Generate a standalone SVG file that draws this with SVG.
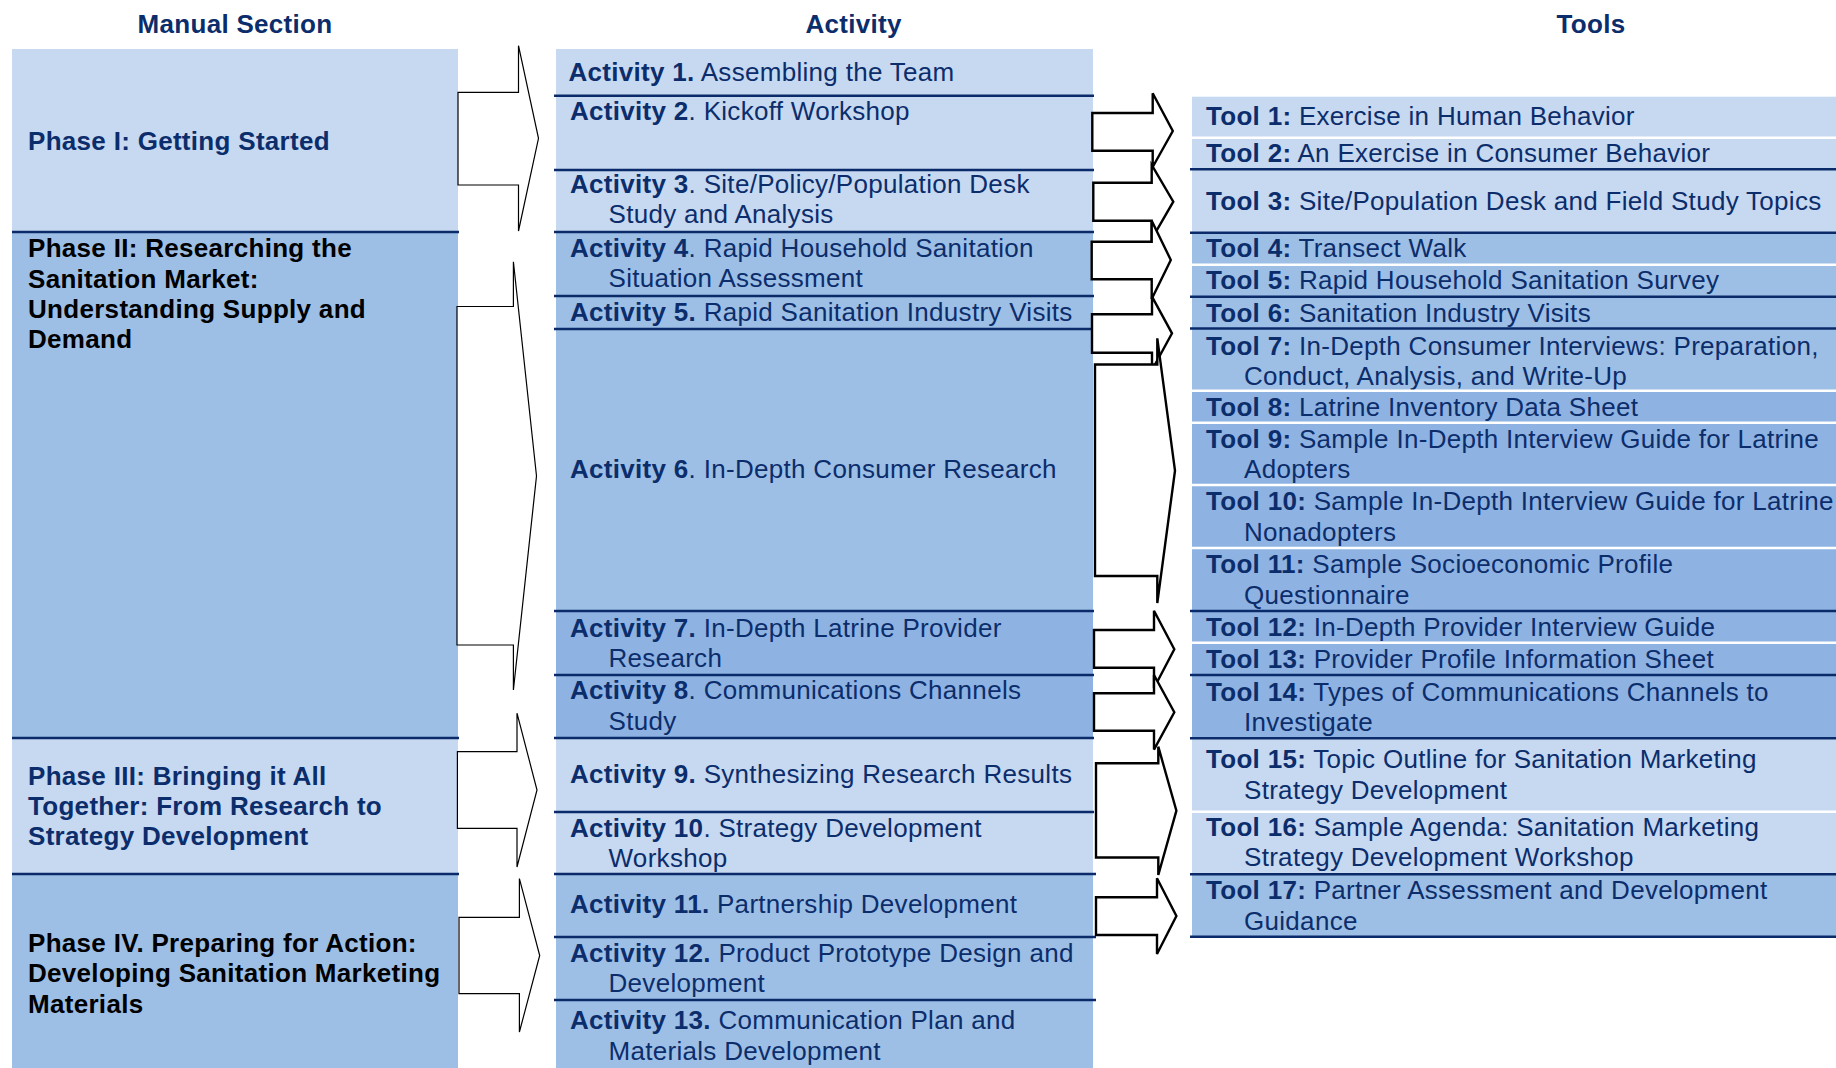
<svg xmlns="http://www.w3.org/2000/svg" width="1836" height="1068" viewBox="0 0 1836 1068">
<style>
text{font-family:"Liberation Sans",Arial,sans-serif;font-size:26px;letter-spacing:0.3px;fill:#0C2D6B}
.b{font-weight:bold}
.hd{font-weight:bold;text-anchor:middle}
.blk{fill:#000}
.lt{fill:#C6D9F1}
.md{fill:#9DBFE5}
.dk{fill:#8EB3E2}
.nv{stroke:#0A2A6A;stroke-width:2.5}
.wh{stroke:#FFFFFF;stroke-width:2.5}
.la{fill:#FFFFFF;stroke:#000;stroke-width:1.2;stroke-linejoin:miter}
.ra{fill:#FFFFFF;stroke:#000;stroke-width:2.4;stroke-linejoin:miter}
</style>
<rect width="1836" height="1068" fill="#FFFFFF"/>
<g id="headers">
<text class="hd" x="235" y="33">Manual Section</text>
<text class="hd" x="853.6" y="33">Activity</text>
<text class="hd" x="1591" y="33">Tools</text>
</g>
<g id="phase-1"><rect class="lt" x="12" y="49" width="446" height="183"/><text class="b" x="28" y="150">Phase I: Getting Started</text></g>
<g id="phase-2"><rect class="md" x="12" y="232" width="446" height="506"/><text class="b blk" x="28" y="257">Phase II: Researching the</text><text class="b blk" x="28" y="288">Sanitation Market:</text><text class="b blk" x="28" y="318">Understanding Supply and</text><text class="b blk" x="28" y="348">Demand</text></g>
<g id="phase-3"><rect class="lt" x="12" y="738" width="446" height="136"/><text class="b" x="28" y="785">Phase III: Bringing it All</text><text class="b" x="28" y="815">Together: From Research to</text><text class="b" x="28" y="845">Strategy Development</text></g>
<g id="phase-4"><rect class="md" x="12" y="874" width="446" height="194"/><text class="b blk" x="28" y="952">Phase IV. Preparing for Action:</text><text class="b blk" x="28" y="982">Developing Sanitation Marketing</text><text class="b blk" x="28" y="1013">Materials</text></g>
<g id="phase-lines"><line class="nv" x1="12" y1="232" x2="459" y2="232"/><line class="nv" x1="12" y1="738" x2="459" y2="738"/><line class="nv" x1="12" y1="874" x2="459" y2="874"/></g>

<g id="activity-bg">
<rect class="lt" x="556" y="49" width="537" height="183"/>
<rect class="md" x="556" y="232" width="537" height="379"/>
<rect class="dk" x="556" y="611" width="537" height="127"/>
<rect class="lt" x="556" y="738" width="537" height="136"/>
<rect class="md" x="556" y="874" width="537" height="194"/>
</g>
<g id="activity-1"><text x="568.5" y="81"><tspan class="b">Activity 1.</tspan> Assembling the Team</text></g>
<g id="activity-2"><text x="570" y="120"><tspan class="b">Activity 2</tspan>. Kickoff Workshop</text></g>
<g id="activity-3"><text x="570" y="193"><tspan class="b">Activity 3</tspan>. Site/Policy/Population Desk</text><text x="608.5" y="223">Study and Analysis</text></g>
<g id="activity-4"><text x="570" y="257"><tspan class="b">Activity 4</tspan>. Rapid Household Sanitation</text><text x="608.5" y="287">Situation Assessment</text></g>
<g id="activity-5"><text x="570" y="321"><tspan class="b">Activity 5.</tspan> Rapid Sanitation Industry Visits</text></g>
<g id="activity-6"><text x="570" y="478"><tspan class="b">Activity 6</tspan>. In-Depth Consumer Research</text></g>
<g id="activity-7"><text x="570" y="637"><tspan class="b">Activity 7.</tspan> In-Depth Latrine Provider</text><text x="608.5" y="667">Research</text></g>
<g id="activity-8"><text x="570" y="699"><tspan class="b">Activity 8</tspan>. Communications Channels</text><text x="608.5" y="730">Study</text></g>
<g id="activity-9"><text x="570" y="783"><tspan class="b">Activity 9.</tspan> Synthesizing Research Results</text></g>
<g id="activity-10"><text x="570" y="837"><tspan class="b">Activity 10</tspan>. Strategy Development</text><text x="608.5" y="867">Workshop</text></g>
<g id="activity-11"><text x="570" y="913"><tspan class="b">Activity 11.</tspan> Partnership Development</text></g>
<g id="activity-12"><text x="570" y="962"><tspan class="b">Activity 12.</tspan> Product Prototype Design and</text><text x="608.5" y="992">Development</text></g>
<g id="activity-13"><text x="570" y="1029"><tspan class="b">Activity 13.</tspan> Communication Plan and</text><text x="608.5" y="1060">Materials Development</text></g>
<g id="activity-lines">
<line class="nv" x1="554" y1="95.7" x2="1094" y2="95.7"/>
<line class="nv" x1="554" y1="170" x2="1094" y2="170"/>
<line class="nv" x1="554" y1="232" x2="1094" y2="232"/>
<line class="nv" x1="554" y1="296" x2="1094" y2="296"/>
<line class="nv" x1="554" y1="329" x2="1094" y2="329"/>
<line class="nv" x1="554" y1="611" x2="1094" y2="611"/>
<line class="nv" x1="554" y1="675" x2="1094" y2="675"/>
<line class="nv" x1="554" y1="738" x2="1094" y2="738"/>
<line class="nv" x1="554" y1="812" x2="1094" y2="812"/>
<line class="nv" x1="554" y1="874" x2="1096" y2="874"/>
<line class="nv" x1="554" y1="937" x2="1096" y2="937"/>
<line class="nv" x1="554" y1="1000" x2="1096" y2="1000"/>
</g>

<g id="tool-bg">
<rect class="lt" x="1192" y="96.7" width="644" height="136"/>
<rect class="md" x="1192" y="232.7" width="644" height="158"/>
<rect class="dk" x="1192" y="390.7" width="644" height="347.6"/>
<rect class="lt" x="1192" y="738.3" width="644" height="136"/>
<rect class="md" x="1192" y="874.3" width="644" height="62.4"/>
</g>
<g id="tool-1"><text x="1206" y="125"><tspan class="b">Tool 1:</tspan> Exercise in Human Behavior</text></g>
<g id="tool-2"><text x="1206" y="161.7"><tspan class="b">Tool 2:</tspan> An Exercise in Consumer Behavior</text></g>
<g id="tool-3"><text x="1206" y="210"><tspan class="b">Tool 3:</tspan> Site/Population Desk and Field Study Topics</text></g>
<g id="tool-4"><text x="1206" y="257"><tspan class="b">Tool 4:</tspan> Transect Walk</text></g>
<g id="tool-5"><text x="1206" y="289"><tspan class="b">Tool 5:</tspan> Rapid Household Sanitation Survey</text></g>
<g id="tool-6"><text x="1206" y="321.7"><tspan class="b">Tool 6:</tspan> Sanitation Industry Visits</text></g>
<g id="tool-7"><text x="1206" y="355"><tspan class="b">Tool 7:</tspan> In-Depth Consumer Interviews: Preparation,</text><text x="1244" y="385">Conduct, Analysis, and Write-Up</text></g>
<g id="tool-8"><text x="1206" y="416"><tspan class="b">Tool 8:</tspan> Latrine Inventory Data Sheet</text></g>
<g id="tool-9"><text x="1206" y="447.7"><tspan class="b">Tool 9:</tspan> Sample In-Depth Interview Guide for Latrine</text><text x="1244" y="478">Adopters</text></g>
<g id="tool-10"><text x="1206" y="510"><tspan class="b">Tool 10:</tspan> Sample In-Depth Interview Guide for Latrine</text><text x="1244" y="540.7">Nonadopters</text></g>
<g id="tool-11"><text x="1206" y="573.3"><tspan class="b">Tool 11:</tspan> Sample Socioeconomic Profile</text><text x="1244" y="604">Questionnaire</text></g>
<g id="tool-12"><text x="1206" y="636"><tspan class="b">Tool 12:</tspan> In-Depth Provider Interview Guide</text></g>
<g id="tool-13"><text x="1206" y="668"><tspan class="b">Tool 13:</tspan> Provider Profile Information Sheet</text></g>
<g id="tool-14"><text x="1206" y="700.5"><tspan class="b">Tool 14:</tspan> Types of Communications Channels to</text><text x="1244" y="730.7">Investigate</text></g>
<g id="tool-15"><text x="1206" y="768.3"><tspan class="b">Tool 15:</tspan> Topic Outline for Sanitation Marketing</text><text x="1244" y="799">Strategy Development</text></g>
<g id="tool-16"><text x="1206" y="836"><tspan class="b">Tool 16:</tspan> Sample Agenda: Sanitation Marketing</text><text x="1244" y="866">Strategy Development Workshop</text></g>
<g id="tool-17"><text x="1206" y="899.3"><tspan class="b">Tool 17:</tspan> Partner Assessment and Development</text><text x="1244" y="930">Guidance</text></g>
<g id="tool-lines">
<line class="wh" x1="1192" y1="137.7" x2="1836" y2="137.7"/>
<line class="wh" x1="1192" y1="264.7" x2="1836" y2="264.7"/>
<line class="wh" x1="1192" y1="390.7" x2="1836" y2="390.7"/>
<line class="wh" x1="1192" y1="422.7" x2="1836" y2="422.7"/>
<line class="wh" x1="1192" y1="485" x2="1836" y2="485"/>
<line class="wh" x1="1192" y1="548" x2="1836" y2="548"/>
<line class="wh" x1="1192" y1="642.7" x2="1836" y2="642.7"/>
<line class="wh" x1="1192" y1="811.7" x2="1836" y2="811.7"/>
<line class="nv" x1="1190" y1="169.3" x2="1836" y2="169.3"/>
<line class="nv" x1="1190" y1="232.7" x2="1836" y2="232.7"/>
<line class="nv" x1="1190" y1="296.7" x2="1836" y2="296.7"/>
<line class="nv" x1="1190" y1="328.5" x2="1836" y2="328.5"/>
<line class="nv" x1="1190" y1="611" x2="1836" y2="611"/>
<line class="nv" x1="1190" y1="675" x2="1836" y2="675"/>
<line class="nv" x1="1190" y1="738.3" x2="1836" y2="738.3"/>
<line class="nv" x1="1190" y1="874.3" x2="1836" y2="874.3"/>
<line class="nv" x1="1190" y1="936.7" x2="1836" y2="936.7"/>
</g>

<g id="connectors">
<polygon class="la" points="458,92.3 518.5,92.3 518.5,45.7 538.5,138.3 518.5,231 518.5,185 458,185"/>
<polygon class="la" points="457,306.5 513.4,306.5 513.4,261.7 536.5,476 513.4,690 513.4,645 457,645"/>
<polygon class="la" points="457.4,751.7 517,751.7 517,713.2 537,790 517,867 517,828.3 457.4,828.3"/>
<polygon class="la" points="459,917.3 519.4,917.3 519.4,878.6 539.7,955.5 519.4,1032 519.4,993.7 459,993.7"/>
<polygon class="ra" points="1092.3,113 1152.7,113 1152.7,93.3 1172.8,131 1152.7,167 1152.7,150.7 1092.3,150.7"/>
<polygon class="ra" points="1093.3,182.7 1151.7,182.7 1151.7,165 1173.3,201.7 1151.7,239 1151.7,220.7 1093.3,220.7"/>
<polygon class="ra" points="1091.7,241.7 1151.7,241.7 1151.7,220.7 1170.8,260 1151.7,299 1151.7,279.3 1091.7,279.3"/>
<polygon class="ra" points="1092,314.3 1152,314.3 1152,296.7 1172,333.3 1152,370 1152,352.7 1092,352.7"/>
<polygon class="ra" points="1095,364.5 1157.3,364.5 1157.3,338.3 1175,470.7 1157.3,603 1157.3,576 1095,576"/>
<polygon class="ra" points="1094,630 1154,630 1154,610.7 1174.3,649.3 1154,688 1154,667.7 1094,667.7"/>
<polygon class="ra" points="1094,693.3 1154,693.3 1154,675 1174.3,712.3 1154,749.6 1154,730.7 1094,730.7"/>
<polygon class="ra" points="1096,763.3 1158.3,763.3 1158.3,746.7 1176.4,810.7 1158.3,875 1158.3,857.5 1096,857.5"/>
<polygon class="ra" points="1096,897.3 1157,897.3 1157,878.3 1176.4,916 1157,954 1157,935 1096,935"/>
</g>
</svg>
